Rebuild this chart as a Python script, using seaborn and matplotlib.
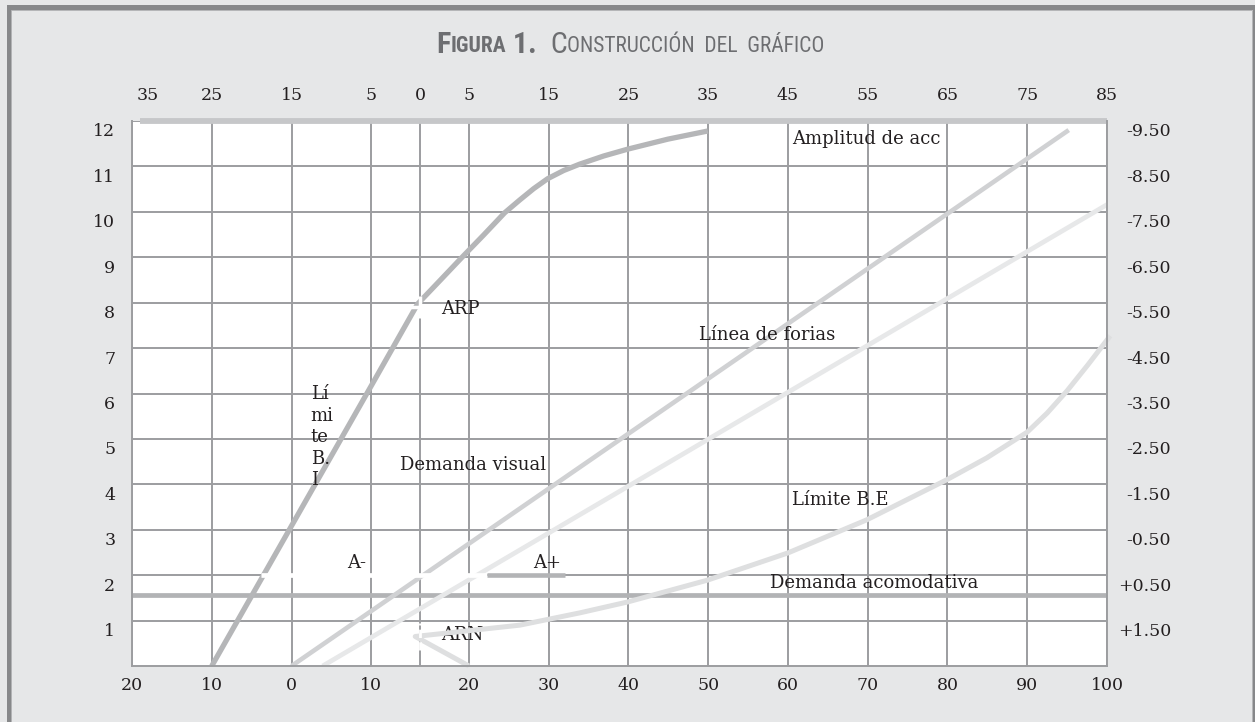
import numpy as np
import matplotlib
matplotlib.use("Agg")
import matplotlib.pyplot as plt
import matplotlib.transforms as mtransforms
from matplotlib.patches import Rectangle
from matplotlib.ticker import FixedLocator, FixedFormatter
import seaborn as sns

sns.set_theme(style="white")
plt.rcParams["font.family"] = ["DejaVu Serif"]

# ---- axis labels -------------------------------------------------------
bottom_pos = [-20, -10, 0, 10, 20, 30, 40, 50, 60, 70, 80, 90, 100]
bottom_labels = ["20", "10", "0", "10", "20", "30", "40", "50", "60", "70", "80", "90", "100"]
top_pos = [-18, -10, 0, 10, 15, 20, 30, 40, 50, 60, 70, 80, 90, 100]
top_labels = ["35", "25", "15", "5", "0", "5", "15", "25", "35", "45", "55", "65", "75", "85"]
left_pos = [1, 2, 3, 4, 5, 6, 7, 8, 9, 10, 11, 12]
left_labels = [str(v) for v in left_pos]
right_labels = ["+1.50", "+0.50", "-0.50", "-1.50", "-2.50", "-3.50",
                "-4.50", "-5.50", "-6.50", "-7.50", "-8.50", "-9.50"]

# ---- curves ------------------------------------------------------------
amp_x = [-10, 10, 14.74, 17.0, 19.25, 21.84, 24.48, 26.36, 28.11, 29.87, 31.88,
         33.88, 36.9, 39.9, 44.93, 49.95]
amp_y = [0, 6.17, 7.97, 8.48, 8.99, 9.49, 9.98, 10.26, 10.51, 10.73, 10.91,
         11.05, 11.23, 11.38, 11.6, 11.78]

visual_x = [0, 95.2]
visual_y = [0, 11.8]

forias_x = [3.9, 100.4]
forias_y = [0, 10.2]

be_x = [20, 14.5, 26.4, 33.9, 39.9, 49.9, 60.0, 69.9, 79.9, 84.9, 90.0, 92.5, 95.0, 97.6, 100.4]
be_y = [0, 0.65, 0.90, 1.17, 1.41, 1.89, 2.49, 3.22, 4.10, 4.58, 5.15, 5.57, 6.06, 6.63, 7.27]

acom_x = [-20, 100]
acom_y = [1.56, 1.56]

top_x = [-19, 100]
top_y = [12, 12]

a_minus_x = [-3.8, 22.2]
a_plus_x = [22.2, 32.0]
a_level = [2, 2]

arp_pt = (15, 7.9)
arn_x = [15, 15]
arn_y = [0.35, 0.95]


# bottom scale is stretched between 10 and 20
def fwd(v):
    v = np.asarray(v, dtype=float)
    return np.where(v <= 10, v, np.where(v <= 20, 10 + (v - 10) * 1.225, v + 2.25))


def inv(w):
    w = np.asarray(w, dtype=float)
    return np.where(w <= 10, w, np.where(w <= 22.25, 10 + (w - 10) / 1.225, w - 2.25))


GRID = "#9c9da0"
TXT = "#231f20"
BG = "#e6e7e8"

fig = plt.figure(figsize=(12.55, 7.22), dpi=100)
fig.patch.set_facecolor(BG)
W, H = 1255, 722
ax = fig.add_axes([132 / W, 1 - 666 / H, (1107 - 132) / W, (666 - 121) / H])
ax.set_facecolor("white")
ax.set_xscale("function", functions=(fwd, inv))

# curves
ax.plot(acom_x, acom_y, color="#b2b3b5", lw=3.4, solid_capstyle="butt", zorder=2)
sns.lineplot(x=visual_x, y=visual_y, ax=ax, color="#d0d1d3", lw=3.3, sort=False,
             estimator=None, solid_capstyle="butt", zorder=2.1)
sns.lineplot(x=forias_x, y=forias_y, ax=ax, color="#e7e8e9", lw=3.4, sort=False,
             estimator=None, solid_capstyle="butt", zorder=2.1, clip_on=False)
sns.lineplot(x=be_x, y=be_y, ax=ax, color="#dedfe0", lw=3.6, sort=False,
             estimator=None, solid_capstyle="butt", zorder=2.2, clip_on=False)
sns.lineplot(x=amp_x, y=amp_y, ax=ax, color="#b5b6b8", lw=3.8, sort=False,
             estimator=None, solid_capstyle="butt", solid_joinstyle="round", zorder=2.3)
ax.plot(top_x, top_y, color="#c6c7c9", lw=4.2, solid_capstyle="butt", zorder=2.5, clip_on=False)

# A- / A+ zone and the ARP / ARN marks
ax.plot(a_minus_x, a_level, color="white", lw=3.4, solid_capstyle="butt", zorder=2.6)
ax.plot(a_plus_x, a_level, color="#b3b4b6", lw=3.3, solid_capstyle="butt", zorder=2.7)
ax.plot(*arp_pt, marker="+", ms=16, mew=2.5, color="white", zorder=2.8)
ax.plot(arn_x, arn_y, color="white", lw=2, ls=(0, (3, 1.5)), zorder=2.8)

ax.set_xlim(-20, 100)
ax.set_ylim(0, 12)

# grid / spines
ax.xaxis.set_major_locator(FixedLocator(bottom_pos))
ax.xaxis.set_major_formatter(FixedFormatter(bottom_labels))
ax.xaxis.set_minor_locator(FixedLocator([15]))
ax.yaxis.set_major_locator(FixedLocator(left_pos))
ax.yaxis.set_major_formatter(FixedFormatter(left_labels))
ax.grid(True, which="both", axis="x", color=GRID, lw=1.4)
ax.grid(True, which="major", axis="y", color=GRID, lw=1.4)
ax.set_axisbelow(True)
for side in ["left", "right", "bottom"]:
    ax.spines[side].set_color(GRID)
    ax.spines[side].set_linewidth(1.4)
ax.spines["top"].set_visible(False)
ax.tick_params(axis="both", which="both", length=0, labelsize=12.5, labelcolor=TXT)
ax.tick_params(axis="x", pad=8)
ax.tick_params(axis="y", pad=12)

shift = mtransforms.ScaledTranslation(0, -0.09, fig.dpi_scale_trans)
for lab in ax.get_yticklabels():
    lab.set_transform(lab.get_transform() + shift)

# top axis
ax_t = ax.twiny()
ax_t.set_xscale("function", functions=(fwd, inv))
ax_t.set_xlim(-20, 100)
ax_t.xaxis.set_major_locator(FixedLocator(top_pos))
ax_t.xaxis.set_major_formatter(FixedFormatter(top_labels))
ax_t.tick_params(axis="x", length=0, labelsize=12.5, labelcolor=TXT, pad=12)
for s in ax_t.spines.values():
    s.set_visible(False)

# right axis
ax_r = ax.twinx()
ax_r.set_ylim(0, 12)
ax_r.yaxis.set_major_locator(FixedLocator(left_pos))
ax_r.yaxis.set_major_formatter(FixedFormatter(right_labels))
ax_r.tick_params(axis="y", length=0, labelsize=12.5, labelcolor=TXT, pad=46)
for s in ax_r.spines.values():
    s.set_visible(False)
for lab in ax_r.get_yticklabels():
    lab.set_horizontalalignment("right")
    lab.set_transform(lab.get_transform() + shift)

# annotations
kw = dict(fontsize=13, color=TXT, ha="left", va="center", zorder=4)
ax.text(60.5, 11.6, "Amplitud de acc", **kw)
ax.text(48.8, 7.29, "Línea de forias", **kw)
ax.text(12.9, 4.43, "Demanda visual", **kw)
ax.text(60.5, 3.66, "Límite B.E", **kw)
ax.text(57.7, 1.83, "Demanda acomodativa", **kw)
ax.text(7.0, 2.27, "A-", **kw)
ax.text(28.0, 2.27, "A+", **kw)
ax.text(17.1, 7.86, "ARP", **kw)
ax.text(17.1, 0.68, "ARN", fontsize=13, color=TXT, ha="left", va="center", zorder=1)
ax.text(2.4, 5.04, "Lí\nmi\nte\nB.\nI", linespacing=1.25, **kw)

# title, faked small caps
tfont = ["Roboto Condensed", "DejaVu Sans"]
TC = "#6d6e71"
t = fig.text(436 / W, 1 - 59 / H, "F", fontsize=21.5, fontweight="bold", color=TC,
             family=tfont, fontstretch="condensed", va="bottom", ha="left")
pieces = [("IGURA", 15.5, "bold", 1.5), (" 1.", 21.5, "bold", -1.5),
          ("  C", 21.5, "normal", 0), ("ONSTRUCCIÓN  DEL  GRÁFICO", 15.5, "normal", 1.5)]
for txt, size, weight, dy in pieces:
    t = ax.annotate(txt, xy=(1, 0), xycoords=t, xytext=(0, dy), textcoords="offset points",
                    fontsize=size, fontweight=weight, color=TC, family=tfont,
                    fontstretch="condensed", va="bottom", ha="left", annotation_clip=False)

# outer frame
fig.patches.append(Rectangle((8.5 / W, -0.1), (1254.5 - 8.5) / W, 1.1 - 6.5 / H,
                             transform=fig.transFigure, fill=False, ec="#87888a", lw=3.6))
fig.patches.append(Rectangle((11.5 / W, -0.1), (1251.5 - 11.5) / W, 1.1 - 9.8 / H,
                             transform=fig.transFigure, fill=False, ec="#b4b5b7", lw=0.7))

fig.savefig("out.png", dpi=100, facecolor=BG)
